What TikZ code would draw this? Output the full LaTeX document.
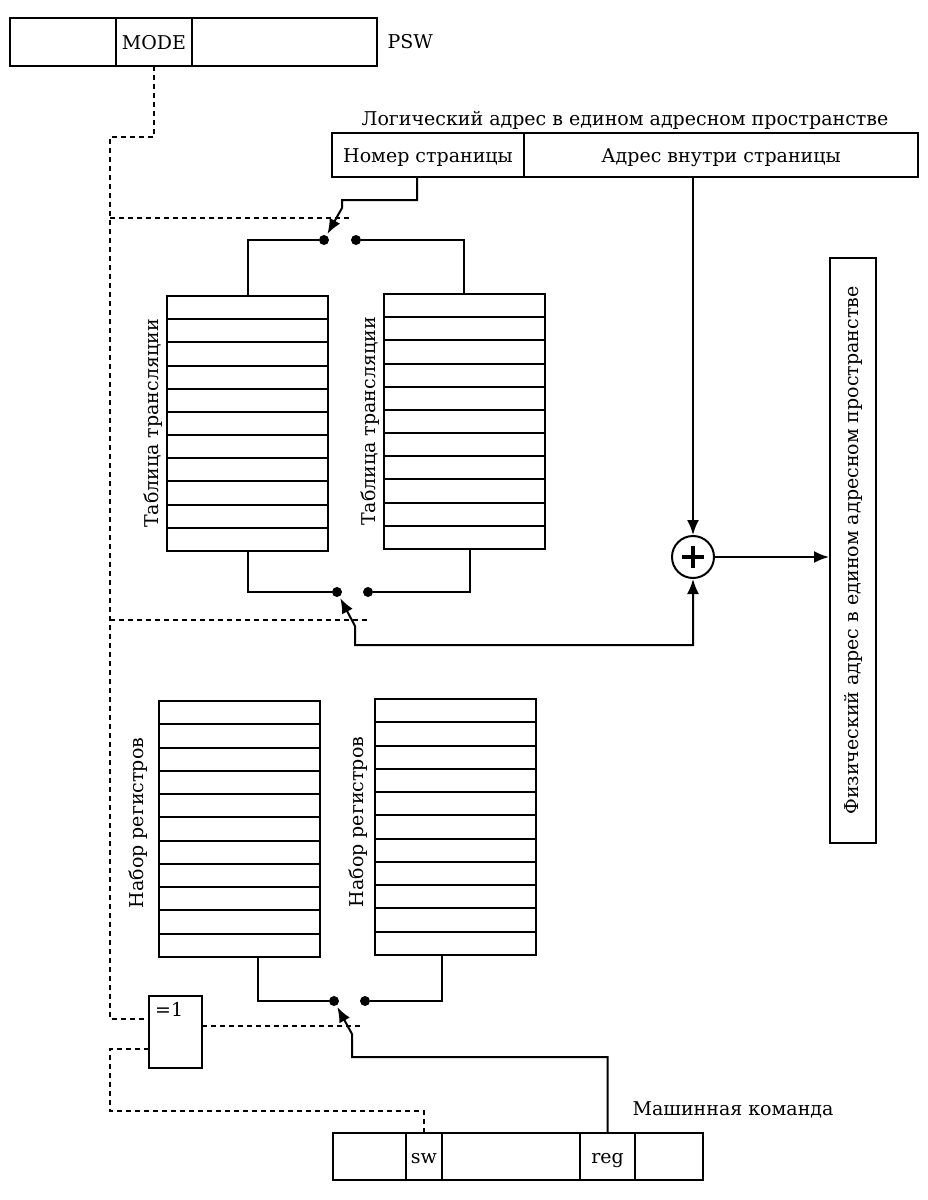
\documentclass[tikz,border=0pt]{standalone}
\usepackage{fontspec}
\setmainfont{DejaVu Serif}
\usetikzlibrary{positioning, calc, arrows.meta}

\tikzset{
  >={Latex[length=15pt, width=12pt]},
  cell/.style={draw, line width=2pt, inner sep=0pt, outer sep=0pt, minimum height=48pt, text height=14pt, text depth=0pt},
  tbl/.style={draw, line width=2pt, inner sep=0pt, outer sep=0pt, minimum width=161pt, minimum height=255pt},
  dot/.style={circle, fill, inner sep=0pt, outer sep=0pt, minimum size=10pt},
  wire/.style={line width=2pt},
  ctl/.style={line width=1.4pt, dash pattern=on 5pt off 4pt},
}

\begin{document}
\begin{tikzpicture}[x=1pt, y=-1pt, every node/.style={font=\fontsize{19}{22}\selectfont}]
\useasboundingbox (0,0) rectangle (928,1200);

% PSW
\node[cell, minimum width=106pt] (pswA) at (63,42) {};
\node[cell, minimum width=76pt, right=0pt of pswA] (mode) {MODE};
\node[cell, minimum width=185pt, right=0pt of mode] (pswB) {};
\node[right=7pt of pswB] (psw) {PSW};

% logical address
\node[cell, minimum width=192pt, minimum height=44pt] (page) at (428,155) {Номер страницы};
\node[cell, minimum width=394pt, minimum height=44pt, right=0pt of page] (offset) {Адрес внутри страницы};
\node[above] (logic) at ($(page.north west)!0.5!(offset.north east)$) {Логический адрес в едином адресном пространстве};

% tables
\node[tbl] (tabA) at (247.5,423.5) {};
\node[tbl] (tabB) at (464,421.5) {};
\node[tbl, minimum height=256pt] (regA) at (239,829) {};
\node[tbl, minimum height=256pt] (regB) at (455,827) {};
\foreach \t in {tabA,tabB,regA,regB}
  \foreach \i in {1,...,10}
    \draw[wire] ($(\t.north west)!\i/11!(\t.south west)$) -- ($(\t.north east)!\i/11!(\t.south east)$);

\node[rotate=90] (tabAlab) at ([xshift=-14pt]tabA.west) {Таблица трансляции};
\node[rotate=90] (tabBlab) at ([xshift=-13pt]tabB.west) {Таблица трансляции};
\node[rotate=90] (regAlab) at ([xshift=-20pt, yshift=6pt]regA.west) {Набор регистров};
\node[rotate=90] (regBlab) at ([xshift=-16pt, yshift=5pt]regB.west) {Набор регистров};

% switches
\node[dot] (swAl) at (324,240) {};
\node[dot] (swAr) at (356,240) {};
\node[dot] (swBl) at (337,592) {};
\node[dot] (swBr) at (368,592) {};
\node[dot] (swCl) at (334,1001) {};
\node[dot] (swCr) at (365,1001) {};

\draw[wire] (swAl) -| (tabA.north);
\draw[wire] (swAr) -| (tabB.north);
\draw[wire] (swBl) -| (tabA.south);
\draw[wire] (swBr) -| ([xshift=6pt]tabB.south);
\draw[wire] (swCl) -| ([xshift=19pt]regA.south);
\draw[wire] (swCr) -| ([xshift=-13pt]regB.south);

% adder and physical address
\node[circle, draw, line width=2pt, minimum size=42pt, inner sep=0pt] (sum) at (693,557) {};
\draw[line width=3.5pt] ([xshift=-11pt]sum.center) -- ([xshift=11pt]sum.center)
  ([yshift=-11pt]sum.center) -- ([yshift=11pt]sum.center);
\node[draw, line width=2pt, rotate=90, minimum width=585pt, minimum height=46pt, inner sep=0pt] (phys) at (853,550.5) {Физический адрес в едином адресном пространстве};

\draw[wire, ->] (sum |- offset.south) -- (sum);
\draw[wire, ->] (sum) -- (sum -| phys.north);

% =1
\node[cell, minimum width=53pt, minimum height=72pt] (one) at (175.5,1032) {};
\node[anchor=north west, inner sep=6pt] (onetxt) at (one.north west) {=1};

% machine command
\node[cell, minimum width=73pt, minimum height=47pt] (m1) at (369.5,1156.5) {};
\node[cell, minimum width=36pt, minimum height=47pt, right=0pt of m1] (sw) {sw};
\node[cell, minimum width=138pt, minimum height=47pt, right=0pt of sw] (m3) {};
\node[cell, minimum width=55pt, minimum height=47pt, right=0pt of m3] (reg) {reg};
\node[cell, minimum width=68pt, minimum height=47pt, right=0pt of reg] (m5) {};
\node (cmd) at (733,1110) {Машинная команда};

% switch levers
\coordinate (kA1) at (342,200);
\coordinate (kA2) at (342,208);
\draw[wire, ->, shorten >=2pt] ([xshift=-11pt]page.south) |- (kA1) -- (kA2) -- (swAl);
\coordinate (kB1) at (355,626);
\coordinate (kB2) at (355,645);
\draw[wire, <->, shorten <=2pt] (swBl) -- (kB1) -- (kB2) -| (sum);
\coordinate (kC1) at (352,1034);
\coordinate (kC2) at (352,1057);
\draw[wire, ->, shorten >=2pt] (reg.north) |- (kC2) -- (kC1) -- (swCl);

% control lines
\coordinate (cA) at (110,137);
\coordinate (cB) at (110,1019);
\draw[ctl] (mode.south) |- (cA) -- (cB) -- (cB -| one.west);
\coordinate (cC) at (110,218);
\coordinate (cCe) at (350,218);
\draw[ctl] (cC) -- (cCe);
\coordinate (cD) at (110,620);
\coordinate (cDe) at (367,620);
\draw[ctl] (cD) -- (cDe);
\coordinate (cE) at (362,1026);
\draw[ctl] (one.east |- cE) -- (cE);
\coordinate (cF) at (110,1049);
\coordinate (cG) at (110,1111);
\draw[ctl] (one.west |- cF) -- (cF) -- (cG) -| (sw.north);
\end{tikzpicture}
\end{document}
